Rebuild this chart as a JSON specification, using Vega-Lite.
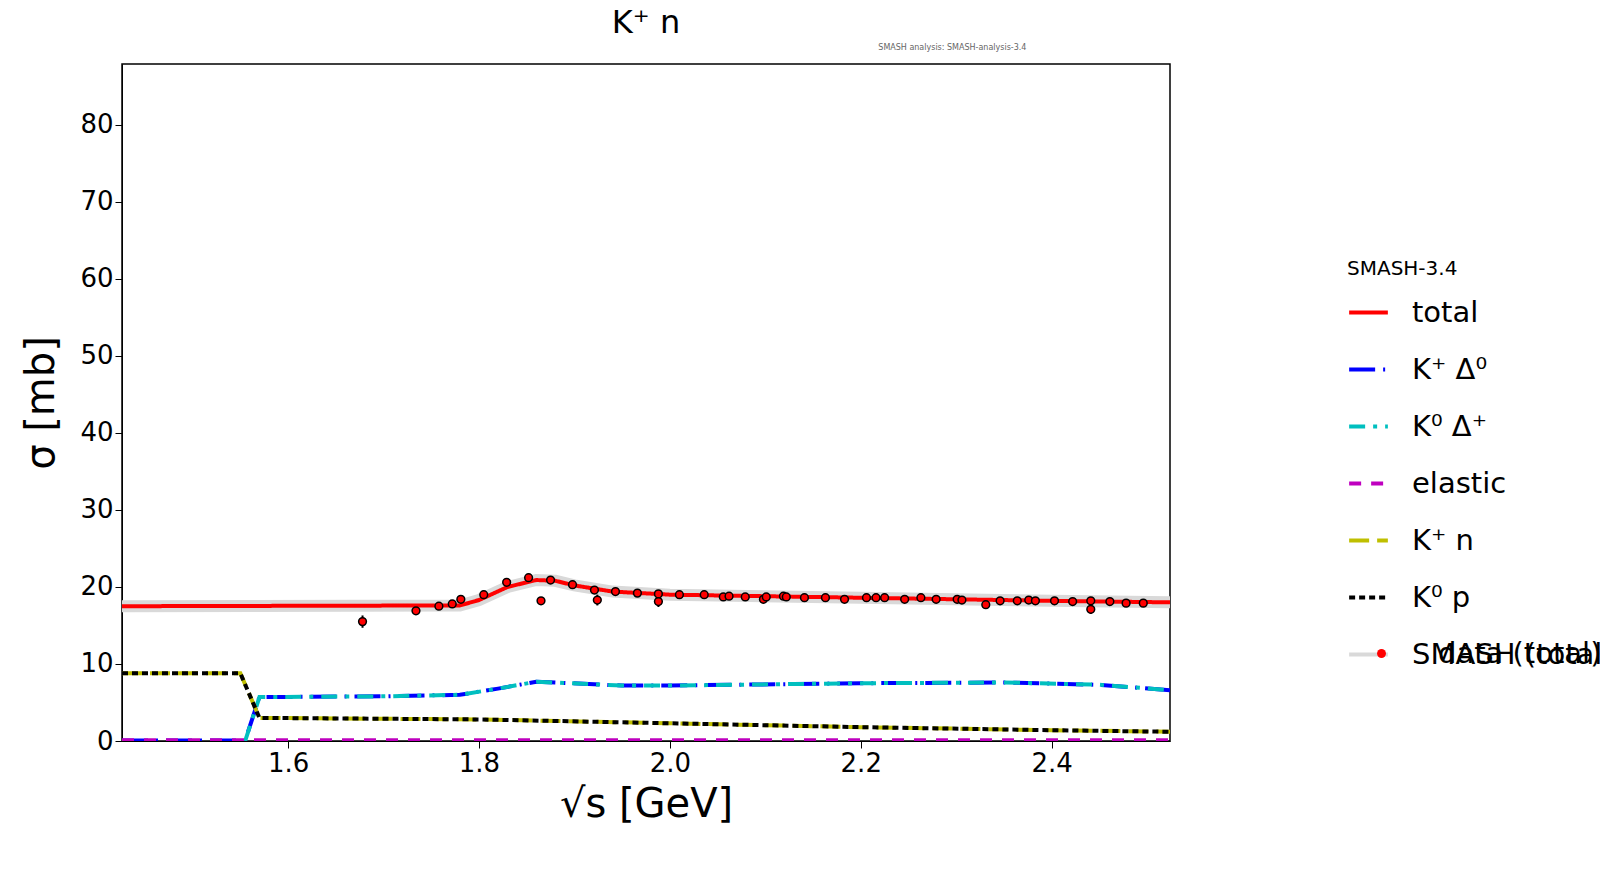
{
  "$schema": "https://vega.github.io/schema/vega-lite/v6.json",
  "width": 1048,
  "height": 677,
  "autosize": "none",
  "padding": {"left": 122, "top": 64, "right": 430, "bottom": 149},
  "background": "white",
  "config": {
    "font": "DejaVu Sans",
    "view": {"stroke": "black", "strokeWidth": 1.5},
    "axis": {"grid": false, "domainColor": "black", "tickColor": "black", "labelColor": "black", "titleColor": "black", "labelFontSize": 26, "titleFontSize": 40, "titleFontWeight": "normal", "tickSize": 7}
  },
  "title": {"text": "K⁺ n", "fontSize": 32, "fontWeight": "normal", "offset": 4},
  "datasets": {
    "band": [
      {"x": 1.426, "y": 17.5}, {"x": 1.78, "y": 17.6}, {"x": 1.80, "y": 18.3}, {"x": 1.83, "y": 20.0}, {"x": 1.86, "y": 20.9}, {"x": 1.88, "y": 20.8}, {"x": 1.90, "y": 20.2}, {"x": 1.94, "y": 19.4}, {"x": 2.0, "y": 19.0}, {"x": 2.2, "y": 18.6}, {"x": 2.4, "y": 18.2}, {"x": 2.524, "y": 18.0}
    ],
    "lines": [
      {"s": "total", "x": 1.426, "y": 17.5}, {"s": "total", "x": 1.78, "y": 17.6}, {"s": "total", "x": 1.80, "y": 18.3}, {"s": "total", "x": 1.83, "y": 20.0}, {"s": "total", "x": 1.86, "y": 20.9}, {"s": "total", "x": 1.88, "y": 20.8}, {"s": "total", "x": 1.90, "y": 20.2}, {"s": "total", "x": 1.94, "y": 19.4}, {"s": "total", "x": 2.0, "y": 19.0}, {"s": "total", "x": 2.2, "y": 18.6}, {"s": "total", "x": 2.4, "y": 18.2}, {"s": "total", "x": 2.524, "y": 18.0},
      {"s": "K⁺ Δ⁰", "x": 1.426, "y": 0.05}, {"s": "K⁺ Δ⁰", "x": 1.555, "y": 0.05}, {"s": "K⁺ Δ⁰", "x": 1.57, "y": 5.7}, {"s": "K⁺ Δ⁰", "x": 1.7, "y": 5.8}, {"s": "K⁺ Δ⁰", "x": 1.78, "y": 6.0}, {"s": "K⁺ Δ⁰", "x": 1.82, "y": 6.8}, {"s": "K⁺ Δ⁰", "x": 1.86, "y": 7.7}, {"s": "K⁺ Δ⁰", "x": 1.95, "y": 7.2}, {"s": "K⁺ Δ⁰", "x": 2.0, "y": 7.2}, {"s": "K⁺ Δ⁰", "x": 2.2, "y": 7.5}, {"s": "K⁺ Δ⁰", "x": 2.35, "y": 7.6}, {"s": "K⁺ Δ⁰", "x": 2.45, "y": 7.3}, {"s": "K⁺ Δ⁰", "x": 2.524, "y": 6.6},
      {"s": "K⁰ Δ⁺", "x": 1.555, "y": 0.0}, {"s": "K⁰ Δ⁺", "x": 1.57, "y": 5.7}, {"s": "K⁰ Δ⁺", "x": 1.7, "y": 5.8}, {"s": "K⁰ Δ⁺", "x": 1.78, "y": 6.0}, {"s": "K⁰ Δ⁺", "x": 1.82, "y": 6.8}, {"s": "K⁰ Δ⁺", "x": 1.86, "y": 7.7}, {"s": "K⁰ Δ⁺", "x": 1.95, "y": 7.2}, {"s": "K⁰ Δ⁺", "x": 2.0, "y": 7.2}, {"s": "K⁰ Δ⁺", "x": 2.2, "y": 7.5}, {"s": "K⁰ Δ⁺", "x": 2.35, "y": 7.6}, {"s": "K⁰ Δ⁺", "x": 2.45, "y": 7.3}, {"s": "K⁰ Δ⁺", "x": 2.524, "y": 6.6},
      {"s": "elastic", "x": 1.426, "y": 0.1}, {"s": "elastic", "x": 2.524, "y": 0.1},
      {"s": "K⁺ n", "x": 1.426, "y": 8.8}, {"s": "K⁺ n", "x": 1.55, "y": 8.8}, {"s": "K⁺ n", "x": 1.57, "y": 3.0}, {"s": "K⁺ n", "x": 1.8, "y": 2.8}, {"s": "K⁺ n", "x": 2.0, "y": 2.3}, {"s": "K⁺ n", "x": 2.2, "y": 1.8}, {"s": "K⁺ n", "x": 2.4, "y": 1.4}, {"s": "K⁺ n", "x": 2.524, "y": 1.2},
      {"s": "K⁰ p", "x": 1.426, "y": 8.8}, {"s": "K⁰ p", "x": 1.55, "y": 8.8}, {"s": "K⁰ p", "x": 1.57, "y": 3.0}, {"s": "K⁰ p", "x": 1.8, "y": 2.8}, {"s": "K⁰ p", "x": 2.0, "y": 2.3}, {"s": "K⁰ p", "x": 2.2, "y": 1.8}, {"s": "K⁰ p", "x": 2.4, "y": 1.4}, {"s": "K⁰ p", "x": 2.524, "y": 1.2}
    ],
    "pts": [
      {"x": 1.678, "y": 15.5, "e": 0.8}, {"x": 1.734, "y": 16.9, "e": 0.4}, {"x": 1.758, "y": 17.5, "e": 0.3}, {"x": 1.772, "y": 17.8, "e": 0.3}, {"x": 1.781, "y": 18.4, "e": 0.3},
      {"x": 1.805, "y": 19.0, "e": 0.3}, {"x": 1.829, "y": 20.6, "e": 0.3}, {"x": 1.852, "y": 21.2, "e": 0.3}, {"x": 1.865, "y": 18.2, "e": 0.5}, {"x": 1.875, "y": 20.9, "e": 0.3},
      {"x": 1.898, "y": 20.3, "e": 0.3}, {"x": 1.921, "y": 19.6, "e": 0.4}, {"x": 1.924, "y": 18.3, "e": 0.7}, {"x": 1.943, "y": 19.4, "e": 0.3}, {"x": 1.966, "y": 19.2, "e": 0.3},
      {"x": 1.988, "y": 19.1, "e": 0.3}, {"x": 1.988, "y": 18.1, "e": 0.7}, {"x": 2.010, "y": 19.0, "e": 0.3}, {"x": 2.036, "y": 19.0, "e": 0.3}, {"x": 2.056, "y": 18.7, "e": 0.3},
      {"x": 2.062, "y": 18.8, "e": 0.3}, {"x": 2.079, "y": 18.7, "e": 0.3}, {"x": 2.098, "y": 18.4, "e": 0.5}, {"x": 2.101, "y": 18.7, "e": 0.3}, {"x": 2.119, "y": 18.8, "e": 0.3},
      {"x": 2.122, "y": 18.7, "e": 0.3}, {"x": 2.141, "y": 18.6, "e": 0.3}, {"x": 2.163, "y": 18.6, "e": 0.3}, {"x": 2.183, "y": 18.4, "e": 0.3}, {"x": 2.206, "y": 18.6, "e": 0.3},
      {"x": 2.216, "y": 18.6, "e": 0.3}, {"x": 2.225, "y": 18.6, "e": 0.3}, {"x": 2.246, "y": 18.4, "e": 0.3}, {"x": 2.263, "y": 18.6, "e": 0.3}, {"x": 2.279, "y": 18.4, "e": 0.3},
      {"x": 2.301, "y": 18.4, "e": 0.3}, {"x": 2.306, "y": 18.3, "e": 0.3}, {"x": 2.331, "y": 17.7, "e": 0.4}, {"x": 2.346, "y": 18.2, "e": 0.3}, {"x": 2.364, "y": 18.2, "e": 0.3},
      {"x": 2.376, "y": 18.3, "e": 0.4}, {"x": 2.383, "y": 18.2, "e": 0.3}, {"x": 2.403, "y": 18.2, "e": 0.3}, {"x": 2.422, "y": 18.1, "e": 0.3}, {"x": 2.441, "y": 18.2, "e": 0.3},
      {"x": 2.441, "y": 17.1, "e": 0.6}, {"x": 2.461, "y": 18.1, "e": 0.3}, {"x": 2.478, "y": 17.9, "e": 0.3}, {"x": 2.496, "y": 17.9, "e": 0.3}
    ]
  },
  "layer": [
    {
      "data": {"name": "band"},
      "mark": {"type": "line", "clip": true, "color": "#d9d9d9", "strokeWidth": 12},
      "encoding": {
        "x": {"field": "x", "type": "quantitative", "scale": {"domain": [1.426, 2.524], "nice": false, "zero": false},
              "axis": {"values": [1.6, 1.8, 2.0, 2.2, 2.4], "format": ".1f", "title": "√s [GeV]", "titlePadding": 8}},
        "y": {"field": "y", "type": "quantitative", "scale": {"domain": [0, 87.9], "nice": false},
              "axis": {"values": [0, 10, 20, 30, 40, 50, 60, 70, 80], "title": "σ [mb]", "titlePadding": 18}}
      }
    },
    {
      "data": {"name": "lines"},
      "mark": {"type": "line", "clip": true, "strokeWidth": 4},
      "encoding": {
        "x": {"field": "x", "type": "quantitative"},
        "y": {"field": "y", "type": "quantitative"},
        "color": {"field": "s", "type": "nominal",
          "scale": {"domain": ["total", "K⁺ Δ⁰", "K⁰ Δ⁺", "elastic", "K⁺ n", "K⁰ p", "SMASH (total)"],
                    "range": ["#ff0000", "#0000ff", "#00bfbf", "#bf00bf", "#bfbf00", "#000000", "#d9d9d9"]},
          "legend": {"title": "SMASH-3.4", "titleFontSize": 20, "titleFontWeight": "normal", "titlePadding": 12, "labelFontSize": 29, "labelLimit": 400, "symbolType": "stroke", "symbolSize": 1500, "symbolStrokeWidth": 4, "rowPadding": 20, "orient": "none", "legendX": 1225, "legendY": 195, "labelOffset": 22}},
        "strokeDash": {"field": "s", "type": "nominal",
          "scale": {"domain": ["total", "K⁺ Δ⁰", "K⁰ Δ⁺", "elastic", "K⁺ n", "K⁰ p", "SMASH (total)"],
                    "range": [[1, 0], [26, 8, 2, 8], [16, 8, 4, 8], [12, 10], [20, 8], [6, 4], [1, 0]]}}
      }
    },
    {
      "data": {"name": "pts"},
      "mark": {"type": "rule", "color": "black", "strokeWidth": 2},
      "encoding": {
        "x": {"field": "x", "type": "quantitative"},
        "y": {"field": "lo", "type": "quantitative"},
        "y2": {"field": "hi"}
      },
      "transform": [{"calculate": "datum.y - datum.e", "as": "lo"}, {"calculate": "datum.y + datum.e", "as": "hi"}]
    },
    {
      "data": {"name": "pts"},
      "transform": [{"calculate": "'data (total)'", "as": "k"}],
      "mark": {"type": "point", "filled": true, "color": "red", "stroke": "black", "strokeWidth": 1.5, "size": 60, "opacity": 1},
      "encoding": {
        "x": {"field": "x", "type": "quantitative"},
        "y": {"field": "y", "type": "quantitative"},
        "shape": {"field": "k", "type": "nominal", "scale": {"range": ["circle"]},
          "legend": {"title": null, "labelFontSize": 29, "labelLimit": 400, "symbolSize": 80, "symbolFillColor": "red", "symbolStrokeColor": "black", "orient": "none", "legendX": 1245, "legendY": 575, "labelOffset": 42}}
      }
    },
    {
      "data": {"values": [{"t": "SMASH analysis: SMASH-analysis-3.4"}]},
      "mark": {"type": "text", "fontSize": 8, "color": "#666666", "clip": false, "baseline": "bottom"},
      "encoding": {
        "x": {"datum": 2.296},
        "y": {"datum": 89.5},
        "text": {"field": "t"}
      }
    }
  ]
}
